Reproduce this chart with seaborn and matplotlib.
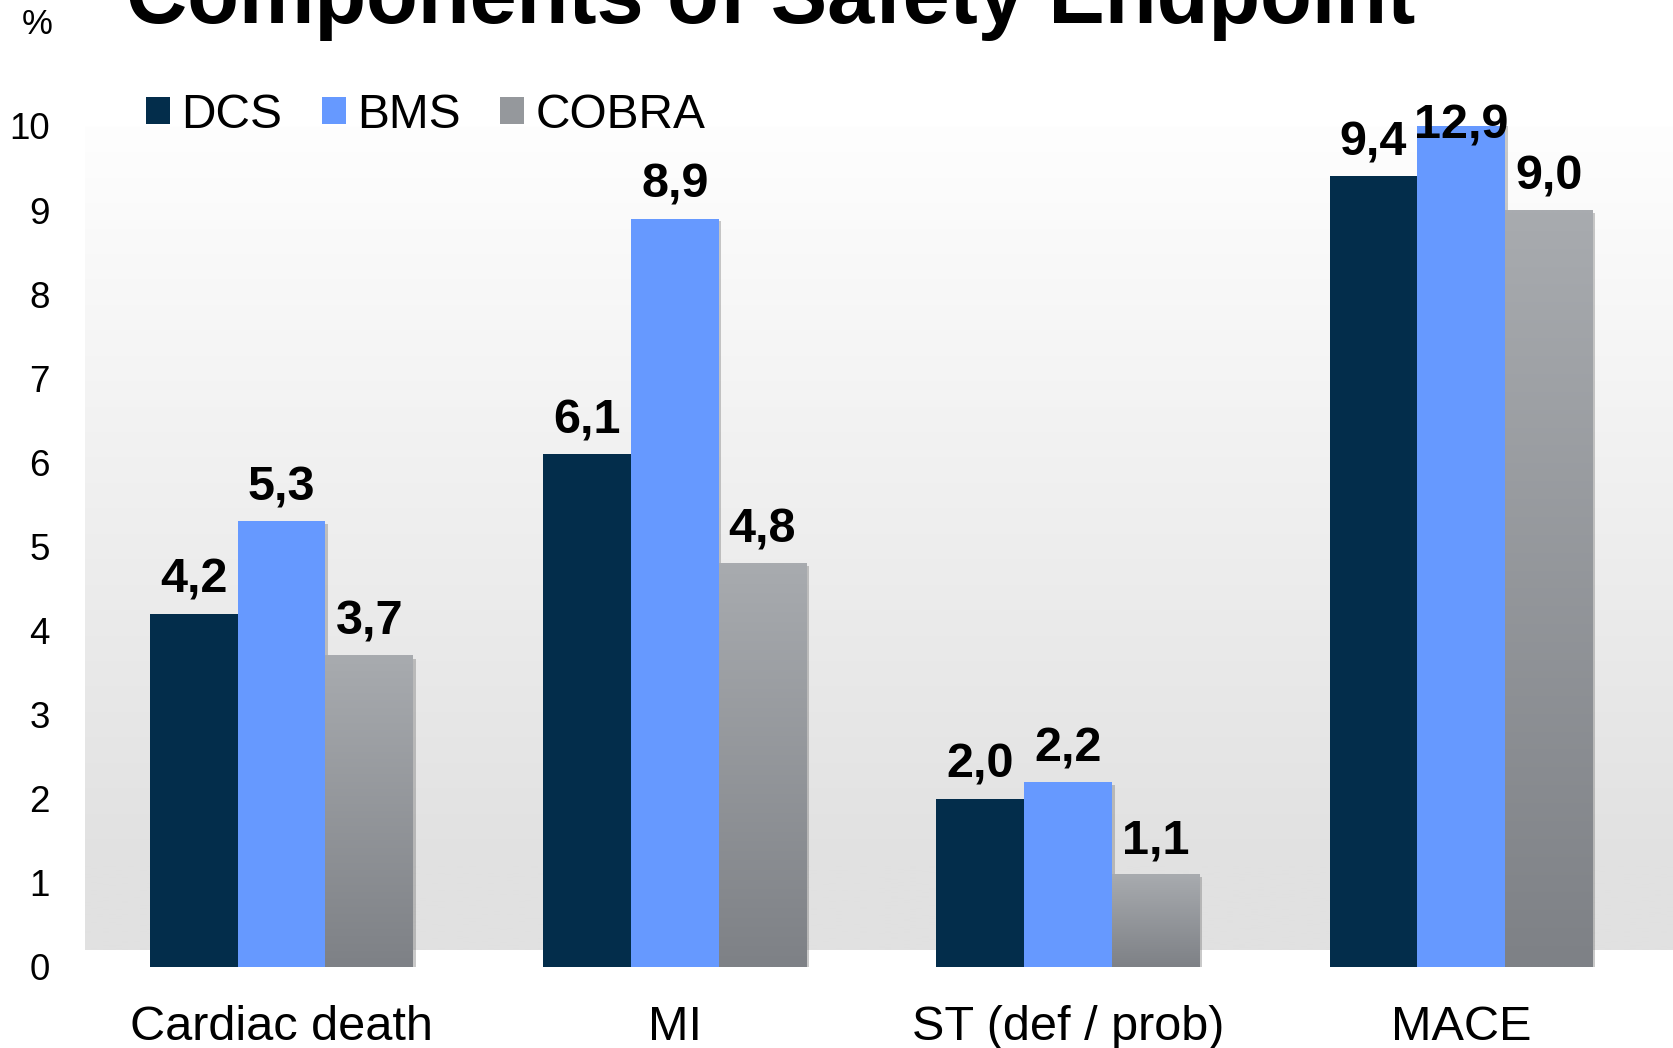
import numpy as np
import pandas as pd
import matplotlib
matplotlib.use("Agg")
import matplotlib.pyplot as plt
import matplotlib.patheffects as pe
from matplotlib.patches import Patch
from matplotlib.colors import to_rgb
import seaborn as sns

# ---- data ----
categories = ["Cardiac death", "MI", "ST (def / prob)", "MACE"]
series_names = ["DCS", "BMS", "COBRA"]
dcs_values = [4.2, 6.1, 2.0, 9.4]
bms_values = [5.3, 8.9, 2.2, 12.9]
cobra_values = [3.7, 4.8, 1.1, 9.0]
y_ticks = [0, 1, 2, 3, 4, 5, 6, 7, 8, 9, 10]
title_text = "Components of Safety Endpoint"
y_unit = "%"

colors = {"DCS": "#032d4b", "BMS": "#6699ff", "COBRA": "#95989c"}
cobra_top, cobra_bot = "#a8abaf", "#7e8186"

FONT = ["Liberation Sans", "DejaVu Sans"]

df = pd.DataFrame({
    "category": categories * 3,
    "series": sum([[s] * len(categories) for s in series_names], []),
    "value": dcs_values + bms_values + cobra_values,
})

W, H = 1673, 1048
fig = plt.figure(figsize=(W / 100, H / 100), dpi=100)
fig.patch.set_facecolor("white")
ax = fig.add_axes([73 / W, (H - 967) / H, 1 - 73 / W, (967 - 126) / H])

sns.barplot(data=df, x="category", y="value", hue="series", order=categories,
            hue_order=series_names, palette=colors, width=0.669, gap=0,
            saturation=1, legend=False, ax=ax, linewidth=0, zorder=2)

xl = (-0.5305, 3.539)

# background panel gradient
n = 256
ys = np.linspace(10.6, 0.2, n)
g = np.clip((10.3 - ys) / (10.3 - 1.2), 0, 1)
lum = 1.0 - g * (1.0 - 0xe1 / 255)
img = np.repeat(lum[:, None, None], 3, axis=2)
ax.imshow(img, extent=[-0.5, xl[1], 0.2, 10.6], aspect="auto", origin="upper",
          zorder=0, interpolation="bilinear")

shadow = [pe.SimplePatchShadow(offset=(2, -2), shadow_rgbFace=(0.4, 0.4, 0.4), alpha=0.35), pe.Normal()]
for cont in ax.containers:
    for p in cont:
        p.set_path_effects(shadow)

# gradient on COBRA bars
ct, cb = np.array(to_rgb(cobra_top)), np.array(to_rgb(cobra_bot))
t = np.linspace(0, 1, 128)[:, None]
grad = (ct[None, :] * (1 - t) + cb[None, :] * t)[:, None, :]
for p in ax.containers[2]:
    x0, y0 = p.get_x(), p.get_y()
    w, h = p.get_width(), p.get_height()
    ax.imshow(grad, extent=[x0, x0 + w, y0, y0 + h], aspect="auto", origin="upper",
              zorder=2.5, interpolation="bilinear")
ax.set_xlim(*xl)
ax.set_ylim(0, 10)

# value labels
for cont in ax.containers:
    for p in cont:
        v = p.get_height()
        top = min(v, 10)
        off = 15 if v <= 10 else -9
        ax.annotate(f"{v:.1f}".replace(".", ","), (p.get_x() + p.get_width() / 2, top),
                    xytext=(0, off), textcoords="offset points", ha="center", va="baseline",
                    fontsize=35, fontweight="bold", family=FONT, color="black",
                    annotation_clip=False, zorder=5)

for s in ax.spines.values():
    s.set_visible(False)
ax.set_xlabel("")
ax.set_ylabel("")
ax.set_yticks(y_ticks)
ax.set_yticklabels([str(t) for t in y_ticks], family=FONT, fontsize=26.5)
ax.set_xticks(range(len(categories)))
ax.set_xticklabels(categories, family=FONT, fontsize=35)
ax.tick_params(axis="y", length=0, pad=16.5)
ax.tick_params(axis="x", length=0, pad=27)
ax.grid(False)

# legend
handles = [Patch(facecolor=colors[s], edgecolor="none") for s in series_names]
leg = fig.legend(handles, series_names, loc="center left", bbox_to_anchor=(146 / W, 1 - 115 / H),
                 ncol=3, frameon=False, prop={"family": FONT, "size": 34.5},
                 handlelength=0.5, handleheight=0.5, handletextpad=0.24, columnspacing=0.82,
                 borderpad=0, borderaxespad=0)

fig.text(771 / W, 1 - 23 / H, title_text, ha="center", va="baseline", fontsize=61,
         fontweight="bold", family=FONT, color="black")
fig.text(37 / W, 1 - 24.5 / H, y_unit, ha="center", va="center", fontsize=25,
         family=FONT, color="black")

# gradient fill for the COBRA legend square
fig.canvas.draw()
bb = leg.legend_handles[2].get_window_extent(fig.canvas.get_renderer())
lax = fig.add_axes([bb.x0 / W, bb.y0 / H, bb.width / W, bb.height / H])
lax.imshow(grad, aspect="auto", origin="upper", interpolation="bilinear")
lax.set_axis_off()

fig.savefig("out.png", dpi=100, facecolor="white")
